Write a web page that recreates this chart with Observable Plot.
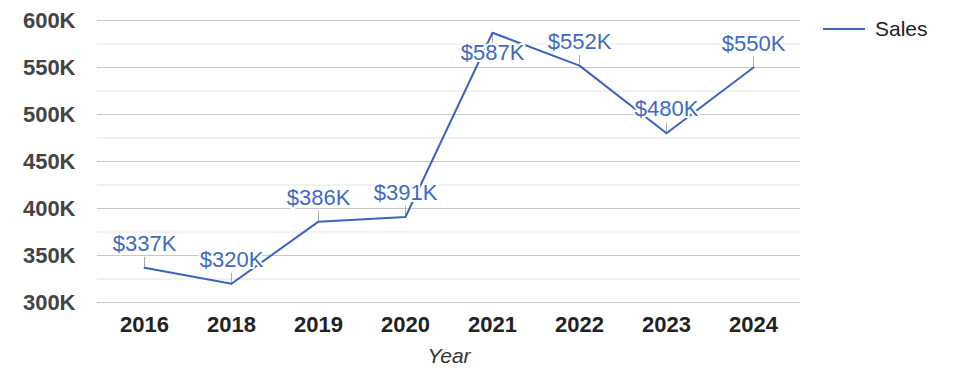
<!DOCTYPE html>
<html>
<head>
<meta charset="utf-8">
<script src="https://cdn.jsdelivr.net/npm/d3@7"></script>
<script src="https://cdn.jsdelivr.net/npm/@observablehq/plot@0.6"></script>
<style>
  body { margin: 0; background: #fff; font-family: "Liberation Sans", Arial, sans-serif; }
  #wrap { position: relative; width: 975px; height: 378px; }
  #legend { position: absolute; left: 823px; top: 17px; display: flex; align-items: center; font-size: 21px; color: #222; }
  #legend .sw { width: 42px; height: 2px; background: #3a63c2; margin-right: 10px; }
</style>
</head>
<body>
<div id="wrap">
  <div id="chart"></div>
  <div id="legend"><span class="sw"></span><span>Sales</span></div>
</div>
<script>
const years = ["2016", "2018", "2019", "2020", "2021", "2022", "2023", "2024"];
const sales = [337000, 320000, 386000, 391000, 587000, 552000, 480000, 550000];
const majorTicks = [300000, 350000, 400000, 450000, 500000, 550000, 600000];
const minorTicks = [325000, 375000, 425000, 475000, 525000, 575000];
const seriesName = "Sales";

const data = years.map((y, i) => ({year: y, value: sales[i], below: sales[i] > 575000}));
const blue = "#3a63c2";
const labelBlue = "#3d6ac6";
const fmt = d => "$" + Math.round(d.value / 1000) + "K";

const chart = Plot.plot({
  width: 975,
  height: 378,
  marginLeft: 97,
  marginRight: 175,
  marginTop: 20,
  marginBottom: 76,
  style: {fontFamily: "'Liberation Sans', Arial, sans-serif", fontSize: "22px", background: "white"},
  x: {type: "point", domain: years, padding: 0.5, label: null},
  y: {domain: [300000, 600000], label: null},
  marks: [
    Plot.ruleY(minorTicks, {stroke: "#e4e4e4", strokeWidth: 1}),
    Plot.ruleY(majorTicks, {stroke: "#c8c8c8", strokeWidth: 1}),
    Plot.axisY({ticks: majorTicks, tickSize: 0, tickPadding: 22, tickFormat: d => d / 1000 + "K",
      fontWeight: "bold", fill: "#444", fontSize: 22, label: null}),
    Plot.axisX({tickSize: 0, tickPadding: 14, fontWeight: "bold", fill: "#222", fontSize: 22, label: null}),
    Plot.text(["Year"], {frameAnchor: "bottom", dy: 60, fontStyle: "italic", fill: "#333", fontSize: 21}),
    Plot.ruleX(data, {x: "year", y1: "value", y2: d => d.value + (d.below ? -11000 : 11000), stroke: "#aaa", strokeWidth: 1}),
    Plot.line(data, {x: "year", y: "value", stroke: blue, strokeWidth: 2}),
    Plot.text(data, {x: "year", y: "value", text: fmt, fill: labelBlue, fontSize: 22,
      lineAnchor: "bottom", stroke: "white", strokeWidth: 4, paintOrder: "stroke",
      filter: d => !d.below, dy: -17}),
    Plot.text(data, {x: "year", y: "value", text: fmt, fill: labelBlue, fontSize: 22,
      lineAnchor: "top", stroke: "white", strokeWidth: 4, paintOrder: "stroke",
      filter: d => d.below, dy: 12})
  ]
});
document.getElementById("chart").appendChild(chart);
</script>
</body>
</html>
